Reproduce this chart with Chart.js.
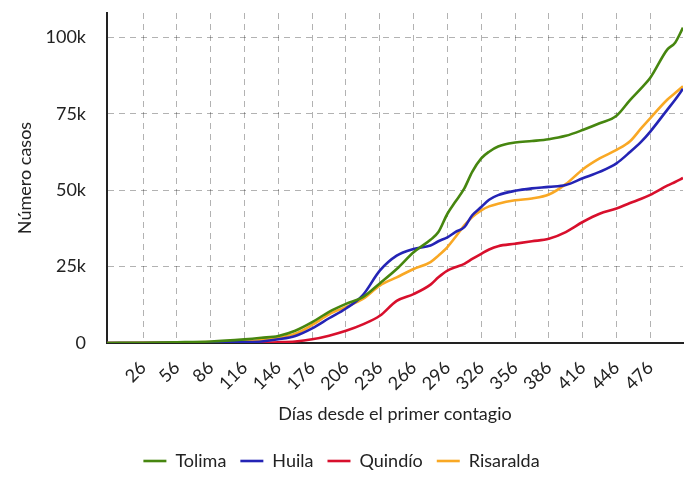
<!DOCTYPE html>
<html><head><meta charset="utf-8">
<script src="https://cdn.jsdelivr.net/npm/chart.js@4/dist/chart.umd.min.js"></script>
<style>html,body{margin:0;padding:0;background:#fff}#wrap{width:684px;height:482px}</style>
</head><body><div id="wrap"><canvas id="c" width="684" height="482"></canvas></div>
<script>
const days = [-6, 26, 56, 86, 116, 131, 146, 161, 176, 191, 206, 221, 236, 251, 266, 281, 288, 296, 303, 311, 318, 326, 333, 341, 356, 371, 386, 401, 416, 431, 446, 458, 468, 476, 491, 498, 505];
const tolima = [0, 100, 250, 500, 1200, 1700, 2300, 4000, 6800, 10200, 12800, 15000, 19500, 24200, 29700, 33800, 36300, 42300, 46200, 50600, 56000, 60400, 62600, 64300, 65600, 66100, 66700, 67800, 69700, 71900, 74400, 79500, 83400, 86800, 96000, 98300, 103200];
const huila = [0, 20, 50, 100, 300, 500, 1200, 2300, 4800, 8100, 11300, 15700, 23700, 28600, 30800, 31900, 33300, 34600, 36300, 37900, 41800, 44500, 46900, 48400, 49800, 50600, 51100, 51700, 53900, 56000, 58800, 62500, 65900, 69200, 76300, 79600, 83200];
const quindio = [0, 10, 30, 60, 100, 150, 250, 500, 1200, 2400, 4000, 6100, 8900, 13800, 16000, 19100, 21500, 23700, 24800, 25900, 27500, 29200, 30600, 31700, 32500, 33300, 34100, 36300, 39600, 42300, 44000, 45800, 47200, 48500, 51500, 52700, 54000];
const risaralda = [0, 50, 150, 300, 600, 1000, 1700, 3000, 5900, 9400, 11800, 14400, 18800, 21500, 24200, 26500, 28600, 31400, 34600, 38500, 41200, 43400, 44700, 45600, 46700, 47300, 48600, 52000, 56800, 60400, 63200, 66000, 70300, 73600, 79600, 81800, 84000];
const seriesNames = ['Tolima', 'Huila', 'Quindío', 'Risaralda'];
const xTicks = [26, 56, 86, 116, 146, 176, 206, 236, 266, 296, 326, 356, 386, 416, 446, 476];
const yTicks = [0, 25000, 50000, 75000, 100000];

const colors = ['#46860f', '#2424b5', '#d80f2c', '#f9a824'];
const seriesValues = [tolima, huila, quindio, risaralda];
const FONT = 'Lato, "Noto Sans", sans-serif';
const pts = vals => days.map((d, i) => ({x: d, y: vals[i]}));

new Chart(document.getElementById('c'), {
  type: 'line',
  data: {
    datasets: seriesNames.map((n, i) => ({
      label: n,
      data: pts(seriesValues[i]),
      borderColor: colors[i],
      backgroundColor: colors[i],
      borderWidth: 2.6,
      pointRadius: 0,
      cubicInterpolationMode: 'monotone',
      fill: false,
      pointStyle: 'line'
    }))
  },
  options: {
    responsive: false,
    animation: false,
    layout: {padding: {top: 13, right: 1, left: 0, bottom: 2}},
    plugins: {
      legend: {
        position: 'bottom',
        labels: {
          usePointStyle: true,
          pointStyleWidth: 23,
          padding: 14,
          color: '#222',
          font: {family: FONT, size: 18}
        }
      },
      tooltip: {enabled: false}
    },
    scales: {
      x: {
        type: 'linear',
        min: -6,
        max: 505,
        afterBuildTicks: s => { s.ticks = xTicks.map(v => ({value: v})); },
        afterFit: s => { s.height = 95; s.paddingLeft = 0; s.paddingRight = 0; },
        grid: {color: 'rgba(0,0,0,0.3)', lineWidth: 1, drawTicks: false},
        border: {display: true, color: '#222', width: 2, dash: [6, 5]},
        ticks: {
          minRotation: 45, maxRotation: 45, padding: 14,
          autoSkip: false,
          color: '#222', font: {family: FONT, size: 18},
          callback: v => String(v)
        },
        title: {display: true, text: 'Días desde el primer contagio', color: '#222',
          font: {family: FONT, size: 18}, padding: {top: 4, bottom: 13}}
      },
      y: {
        type: 'linear',
        min: 0,
        max: 108000,
        afterBuildTicks: s => { s.ticks = yTicks.map(v => ({value: v})); },
        afterFit: s => { s.width = 107; s.paddingTop = 0; s.paddingBottom = 0; },
        grid: {color: 'rgba(0,0,0,0.3)', lineWidth: 1, drawTicks: false},
        border: {display: true, color: '#222', width: 2, dash: [6, 5]},
        ticks: {
          padding: 21,
          color: '#222', font: {family: FONT, size: 18},
          callback: v => v === 0 ? '0' : (v / 1000) + 'k'
        },
        title: {display: true, text: 'Número casos', color: '#222',
          font: {family: FONT, size: 18}, padding: {top: 14, bottom: 4}}
      }
    }
  }
});
</script>
</body></html>
